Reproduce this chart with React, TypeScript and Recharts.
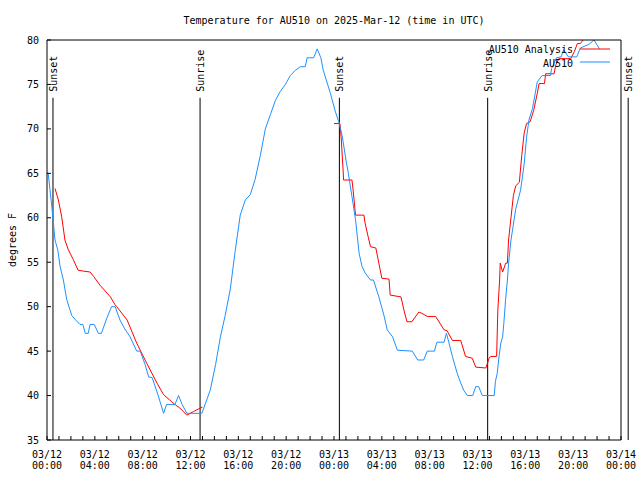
import { LineChart, Line, XAxis, YAxis, ReferenceLine } from 'recharts'

// observed station temperatures (hours since 03/12 00:00 UTC, deg F)
const obsHours = [
  0, 0.1, 0.4, 0.67, 0.9, 1.1, 1.37, 1.65, 2.07, 2.4, 2.76, 3.0, 3.2, 3.45, 3.6, 3.95, 4.3, 4.55, 5.0, 5.4,
  5.7, 6.1, 6.5, 6.95, 7.5, 7.8, 8.2, 8.5, 8.8, 9.3, 9.75, 10.0, 10.7, 11.0, 11.3, 11.7, 12.95, 13.65, 14.1, 14.5,
  14.9, 15.33, 15.75, 16.16, 16.58, 17.0, 17.4, 17.84, 18.26, 18.68, 19.1, 19.5, 19.93, 20.35, 20.77, 21.2, 21.6, 21.75, 22.3, 22.6,
  22.9, 23.1, 23.7, 24.1, 24.4, 24.7, 25.0, 25.2, 25.5, 25.8, 26.1, 26.35, 26.6, 27.05, 27.3, 27.75, 28.2, 28.45, 28.9, 29.3,
  30.55, 31.0, 31.5, 31.8, 32.4, 32.6, 33.2, 33.4, 33.6, 33.9, 34.3, 34.6, 34.85, 35.15, 35.6, 35.85, 36.1, 36.4, 37.4, 37.5,
  37.65, 37.8, 37.95, 38.1, 38.2, 38.35, 38.5, 38.6, 38.8, 39.2, 39.6, 39.9, 40.1, 40.3, 40.6, 41.0, 41.4, 42.1, 42.2, 42.6,
  43.0, 43.2, 43.6, 44.3, 44.6, 45.3, 45.75, 46.2,
]
const obsTemps = [
  65, 65, 61.3, 57.5, 56.4, 54.5, 53, 50.8, 49, 48.5, 48, 48, 47, 47, 48, 48, 47, 47, 48.7, 50,
  50, 48.5, 47.5, 46.6, 45, 45, 43.5, 42.1, 42, 40, 38, 39, 39, 40, 39, 38, 38, 40.6, 43.5, 46.6,
  49, 52, 56.4, 60.3, 62, 62.6, 64.3, 67, 70, 71.6, 73.2, 74.2, 75, 76, 76.6, 77, 77, 78, 78, 79,
  78, 76.6, 74, 72, 70.8, 69.1, 66.5, 65, 62.4, 59.8, 56, 54.5, 53.8, 53, 53, 51.1, 48.9, 47.4, 46.6, 45.1,
  45, 44, 44, 45, 45, 46, 46, 47, 46, 44.4, 42.5, 41.4, 40.6, 40, 40, 41, 41, 40, 40, 41.6,
  42.5, 44.4, 45.9, 46.6, 48.1, 50.8, 53, 54.9, 57.5, 61, 63.1, 66, 69, 71, 72.3, 75.3, 76, 76, 76.8, 78,
  78.1, 78.9, 78.1, 78.1, 79.1, 79.5, 80, 79,
]

// analysis temperatures (null = no analysis)
const anaHours = [
  0.67, 0.95, 1.23, 1.5, 1.78, 2.2, 2.6, 3.04, 3.6, 3.9, 4.44, 5.3, 5.7, 5.83, 6.7, 7.5, 8.35, 9.2, 9.75, 10.6,
  11.1, 11.7, 12.25, 12.67, 13.0, 18.0, 24.0, 24.5, 24.6, 24.76, 24.8, 25.5, 25.6, 25.8, 26.5, 26.6, 26.85, 27.05, 27.5, 27.75,
  28.0, 28.6, 28.7, 29.6, 29.85, 30.1, 30.5, 31.1, 31.35, 31.8, 32.5, 33.2, 33.45, 33.9, 34.6, 35.0, 35.56, 35.85, 36.7, 36.97,
  37.1, 37.6, 37.7, 37.85, 37.9, 38.1, 38.36, 38.5, 38.6, 38.8, 39.0, 39.2, 39.5, 39.7, 39.9, 40.1, 40.4, 40.7, 41.0, 41.15,
  41.6, 41.7, 42.4, 42.55, 42.8, 43.8, 44.1, 44.35, 44.6, 45.0, 46.0,
]
const anaTemps = [
  63.3, 62, 60.1, 57.5, 56.4, 55.3, 54.1, 54, 53.9, 53.4, 52.4, 51.1, 50.2, 50, 48.5, 45.9, 43.6, 41.4, 40.1, 39.1,
  38.6, 37.8, 38.2, 38.5, 38.7, null, 70.6, 70.6, 69, 65.4, 64.25, 64.25, 63.1, 60.3, 60.3, 59.4, 57.9, 56.75, 56.6, 54.9,
  53.2, 53.1, 51.3, 51.1, 49.6, 48.3, 48.3, 49.4, 49.25, 48.9, 48.9, 47.4, 47.3, 46.2, 46.2, 44.4, 44.2, 43.2, 43.1, 44.2,
  44.4, 44.4, 49.6, 53, 54.9, 53.9, 54.9, 54.9, 57.5, 60, 62.5, 63.6, 64, 67, 69.5, 70.6, 70.8, 72.1, 74, 75.1,
  75.1, 76.2, 76.2, 77.2, 77.9, 77.9, 78.7, 79.6, 79.6, 80.3, 80.5,
]

const sunHours = [0.5, 12.8, 24.45, 36.85, 48.6]
const sunEvents = ['Sunset', 'Sunrise', 'Sunset', 'Sunrise', 'Sunset']

const yTicks = [35, 40, 45, 50, 55, 60, 65, 70, 75, 80]
const xLabelHours = [0, 4, 8, 12, 16, 20, 24, 28, 32, 36, 40, 44, 48]
const xLabelDays = ['03/12', '03/12', '03/12', '03/12', '03/12', '03/12', '03/13', '03/13', '03/13', '03/13', '03/13', '03/13', '03/14']
const xLabelTimes = ['00:00', '04:00', '08:00', '12:00', '16:00', '20:00', '00:00', '04:00', '08:00', '12:00', '16:00', '20:00', '00:00']

const seriesNames = ['AU510 Analysis', 'AU510']
const seriesColors = ['#ff0000', '#1e90ff']

const FONT = "'DejaVu Sans Mono', monospace"
const hourTicks = Array.from({ length: 49 }, (_, i) => i)

const obsData = obsHours.map((h, i) => ({ h, t: obsTemps[i] }))
const anaData = anaHours.map((h, i) => ({ h, t: anaTemps[i] }))

function BottomTick({ x, y, payload }: any) {
  const idx = xLabelHours.indexOf(payload.value)
  return (
    <g>
      <line x1={x} x2={x} y1={y} y2={y - 4} stroke="#000" />
      {idx >= 0 && (
        <text x={x} y={y + 18} textAnchor="middle" fontSize={10} fontFamily={FONT} fill="#000">
          <tspan x={x}>{xLabelDays[idx]}</tspan>
          <tspan x={x} dy={11}>{xLabelTimes[idx]}</tspan>
        </text>
      )}
    </g>
  )
}

function TopTick({ x, y }: any) {
  return <line x1={x} x2={x} y1={y} y2={y + 4} stroke="#000" />
}

function LeftTick({ x, y, payload }: any) {
  return (
    <g>
      <line x1={x} x2={x + 4} y1={y} y2={y} stroke="#000" />
      <text x={x - 8} y={y + 3.5} textAnchor="end" fontSize={10} fontFamily={FONT} fill="#000">
        {payload.value}
      </text>
    </g>
  )
}

function RightTick({ x, y }: any) {
  return <line x1={x} x2={x - 4} y1={y} y2={y} stroke="#000" />
}

const sunLabel = (text: string) => (props: any) => {
  const vb = props.viewBox
  if (!vb) return null
  return (
    <text
      transform={`translate(${vb.x + 4},${vb.y - 6}) rotate(-90)`}
      fontSize={10}
      fontFamily={FONT}
      fill="#000"
    >
      {text}
    </text>
  )
}

export default function App() {
  return (
    <div style={{ position: 'absolute', left: 0, top: 0, width: 640, height: 480, background: '#fff' }}>
      <LineChart width={640} height={480} margin={{ top: 0, right: 0, bottom: 0, left: 0 }}>
        <XAxis
          dataKey="h"
          type="number"
          domain={[0, 48]}
          ticks={hourTicks}
          interval={0}
          allowDataOverflow
          tickLine={false}
          tickSize={0}
          tickMargin={0}
          tick={<BottomTick />}
          height={40}
          stroke="#000"
        />
        <XAxis
          xAxisId="top"
          orientation="top"
          dataKey="h"
          type="number"
          domain={[0, 48]}
          ticks={hourTicks}
          interval={0}
          tickLine={false}
          tickSize={0}
          tickMargin={0}
          tick={<TopTick />}
          height={40}
          stroke="#000"
        />
        <YAxis
          type="number"
          domain={[35, 80]}
          ticks={yTicks}
          interval={0}
          allowDataOverflow
          tickLine={false}
          tickSize={0}
          tickMargin={0}
          tick={<LeftTick />}
          width={47}
          stroke="#000"
        />
        <YAxis
          yAxisId="right"
          orientation="right"
          type="number"
          domain={[35, 80]}
          ticks={yTicks}
          interval={0}
          tickLine={false}
          tickSize={0}
          tickMargin={0}
          tick={<RightTick />}
          width={19}
          stroke="#000"
        />
        {sunHours.map((h, i) => (
          <ReferenceLine
            key={i}
            segment={[{ x: h, y: 35 }, { x: h, y: 73.5 }]}
            stroke="#000"
            ifOverflow="visible"
            label={sunLabel(sunEvents[i])}
          />
        ))}
        <Line
          data={anaData}
          dataKey="t"
          name={seriesNames[0]}
          type="linear"
          stroke={seriesColors[0]}
          strokeWidth={1}
          dot={false}
          isAnimationActive={false}
        />
        <Line
          data={obsData}
          dataKey="t"
          name={seriesNames[1]}
          type="linear"
          stroke={seriesColors[1]}
          strokeWidth={1}
          dot={false}
          isAnimationActive={false}
        />
      </LineChart>
      <svg
        width={640}
        height={480}
        style={{ position: 'absolute', left: 0, top: 0, pointerEvents: 'none' }}
      >
        <text x={334} y={24} textAnchor="middle" fontSize={10} fontFamily={FONT} fill="#000">
          Temperature for AU510 on 2025-Mar-12 (time in UTC)
        </text>
        <text transform="translate(16,240) rotate(-90)" textAnchor="middle" fontSize={10} fontFamily={FONT} fill="#000">
          degrees F
        </text>
        {seriesNames.map((name, i) => (
          <g key={name}>
            <text x={573} y={53 + i * 14} textAnchor="end" fontSize={10} fontFamily={FONT} fill="#000">
              {name}
            </text>
            <line x1={580} x2={610} y1={49 + i * 13} y2={49 + i * 13} stroke={seriesColors[i]} />
          </g>
        ))}
      </svg>
    </div>
  )
}
